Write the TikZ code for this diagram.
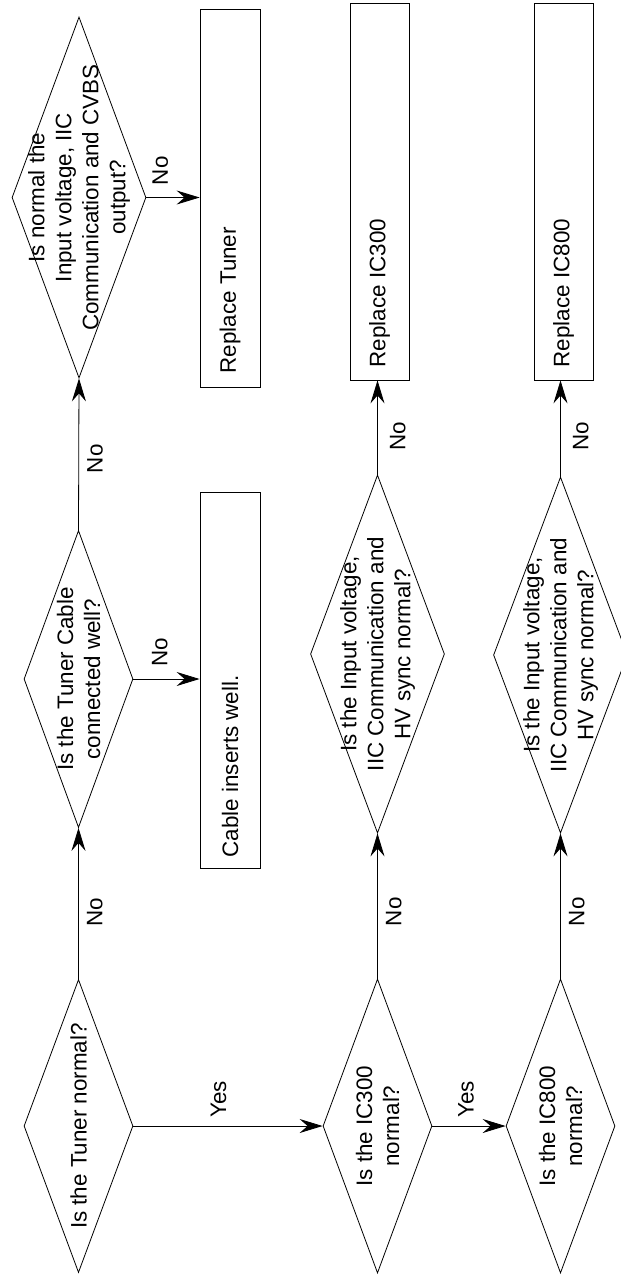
\documentclass[tikz,border=0pt]{standalone}
\usepackage{fontspec}
\setmainfont{Liberation Sans}
\usetikzlibrary{shapes.geometric,arrows.meta}

\begin{document}
\begin{tikzpicture}[x=1pt,y=-1pt,
  decision/.style={draw, diamond, inner sep=0pt, line width=0.8pt},
  action/.style={draw, rectangle, inner sep=0pt, line width=0.8pt},
  txt/.style={rotate=90, align=center, inner sep=0pt, font=\fontsize{22.4}{27}\selectfont},
  lbl/.style={rotate=90, inner sep=8pt, font=\fontsize{22.4}{27}\selectfont},
  flow/.style={-{Stealth[length=23pt,width=14pt,inset=8pt]}, line width=0.8pt}]
\useasboundingbox (0,0) rectangle (621,1277);

% --- TUNER ---
 % decisions
  \node[decision, minimum width=109pt, minimum height=293pt] (tun) at (78.5,1126) {};
  \node[txt] (tun-t) at (tun) {Is the Tuner normal?};
  \node[decision, minimum width=109pt, minimum height=297pt] (cab) at (78.5,679) {};
  \node[txt] (cab-t) at (cab) {Is the Tuner Cable\\connected well?};
  \node[decision, minimum width=134pt, minimum height=361pt] (inT) at (79,197.5) {};
  \node[txt] (inT-t) at (inT) {Is normal the\\Input voltage, IIC\\Communication and CVBS\\output?};

 % actions
  \node[action, minimum width=60pt, minimum height=376pt] (ct) at (230,680) {};
  \node[txt, anchor=west] (ct-t) at ([yshift=11pt]ct.south) {Cable inserts well.};
  \node[action, minimum width=60pt, minimum height=378pt] (rT) at (230,198) {};
  \node[txt, anchor=west] (rT-t) at ([yshift=14pt]rT.south) {Replace Tuner};

% --- IC300 ---
  \node[decision, minimum width=109pt, minimum height=294pt] (i3) at (377.5,1126) {};
  \node[txt] (i3-t) at (i3) {Is the IC300\\normal?};
  \node[decision, minimum width=134pt, minimum height=358pt] (in3) at (377.5,654) {};
  \node[txt] (in3-t) at (in3) {Is the Input voltage,\\IIC Communication and\\HV sync normal?};
  \node[action, minimum width=59pt, minimum height=377pt] (r3) at (379.5,191.5) {};
  \node[txt, anchor=west] (r3-t) at ([yshift=13pt]r3.south) {Replace IC300};

% --- IC800 ---
  \node[decision, minimum width=109pt, minimum height=294pt] (i8) at (560.5,1126) {};
  \node[txt] (i8-t) at (i8) {Is the IC800\\normal?};
  \node[decision, minimum width=134pt, minimum height=356pt] (in8) at (560.5,655) {};
  \node[txt] (in8-t) at (in8) {Is the Input voltage,\\IIC Communication and\\HV sync normal?};
  \node[action, minimum width=59pt, minimum height=377pt] (r8) at (563.5,191.5) {};
  \node[txt, anchor=west] (r8-t) at ([yshift=13pt]r8.south) {Replace IC800};

 % flow
  \draw[flow] (tun.north) -- node[lbl, pos=.44, anchor=north] (n1) {No} (cab.south);
  \draw[flow] (cab.north) -- node[lbl, pos=.47, anchor=north] (n2) {No} (inT.south);
  \draw[flow] (cab.east) -- node[lbl, pos=.4, anchor=west, inner sep=12pt] (n3) {No} (ct.west |- cab.east);
  \draw[flow] (inT.east) -- node[lbl, pos=.26, anchor=west, inner sep=12pt] (n4) {No} (rT.west |- inT.east);
  \draw[flow] (tun.east) -- node[lbl, pos=.45, anchor=west] (y1) {Yes} (i3.west);
  \draw[flow] (i3.east) -- node[lbl, pos=.46, anchor=west] (y2) {Yes} (i8.west);
  \draw[flow] (i3.north) -- node[lbl, pos=.46, anchor=north] (n5) {No} (in3.south);
  \draw[flow] (in3.north) -- node[lbl, pos=.41, anchor=north, inner sep=12pt] (n6) {No} (in3.north |- r3.south);
  \draw[flow] (i8.north) -- node[lbl, pos=.46, anchor=north] (n7) {No} (in8.south);
  \draw[flow] (in8.north) -- node[lbl, pos=.42, anchor=north, inner sep=12pt] (n8) {No} (in8.north |- r8.south);
\end{tikzpicture}
\end{document}
